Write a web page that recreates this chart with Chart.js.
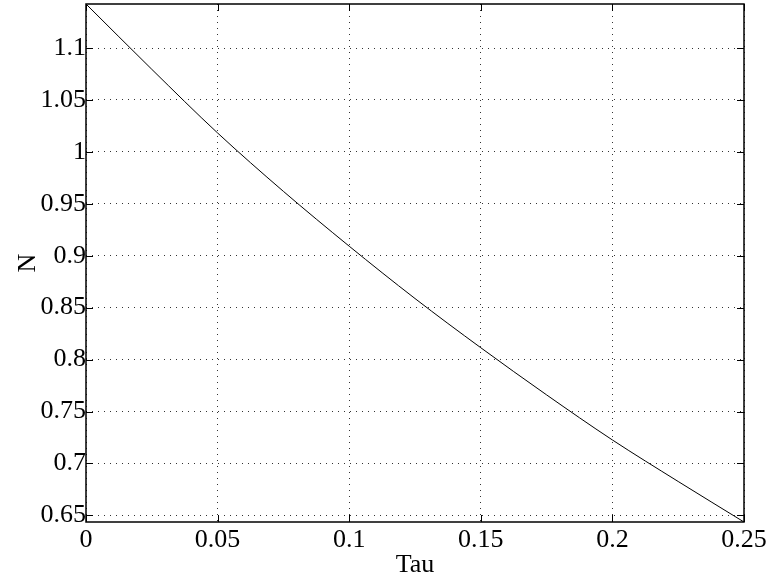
<!DOCTYPE html>
<html>
<head>
<meta charset="utf-8">
<title>N vs Tau</title>
<script src="https://cdn.jsdelivr.net/npm/chart.js@4/dist/chart.umd.min.js"></script>
<style>
  html, body { margin: 0; padding: 0; background: #fff; }
  canvas { display: block; }
</style>
</head>
<body>
<canvas id="chart" width="776" height="579"></canvas>
<script>
// values
const tau = [0, 0.025, 0.05, 0.075, 0.1, 0.125, 0.15, 0.175, 0.2, 0.225, 0.25];
const nVals = [1.1424, 1.0795, 1.0182, 0.962, 0.9092, 0.8588, 0.8114, 0.766, 0.7226, 0.6826, 0.6436];

const xTicks = [0, 0.05, 0.1, 0.15, 0.2, 0.25];
const xTickLabels = ["0", "0.05", "0.1", "0.15", "0.2", "0.25"];
const yTicks = [0.65, 0.7, 0.75, 0.8, 0.85, 0.9, 0.95, 1, 1.05, 1.1];
const yTickLabels = ["0.65", "0.7", "0.75", "0.8", "0.85", "0.9", "0.95", "1", "1.05", "1.1"];
const xRange = [0, 0.25];
const yRange = [0.6436, 1.1424];

const FONT = "'Liberation Serif', 'Times New Roman', serif";

// matlab-ish box with inward ticks on all four sides
const boxPlugin = {
  id: "box",
  afterDraw(chart) {
    const { ctx, chartArea: a, scales } = chart;
    const len = 7;
    ctx.save();
    ctx.strokeStyle = "#000";
    ctx.lineWidth = 1;
    ctx.beginPath();
    for (const v of xTicks) {
      const px = Math.round(scales.x.getPixelForValue(v)) + 0.5;
      ctx.moveTo(px, a.bottom); ctx.lineTo(px, a.bottom - len);
      ctx.moveTo(px, a.top); ctx.lineTo(px, a.top + len);
    }
    for (const v of yTicks) {
      const py = Math.round(scales.y.getPixelForValue(v)) + 0.5;
      ctx.moveTo(a.left, py); ctx.lineTo(a.left + len, py);
      ctx.moveTo(a.right, py); ctx.lineTo(a.right - len, py);
    }
    ctx.stroke();
    ctx.lineWidth = 1.5;
    ctx.strokeRect(a.left, a.top, a.right - a.left, a.bottom - a.top);
    ctx.restore();
  }
};

const gridOpts = { color: "rgba(0,0,0,0.8)", lineWidth: 1, drawTicks: false };
const borderOpts = { display: false, dash: [1, 5] };

new Chart(document.getElementById("chart"), {
  type: "line",
  data: {
    datasets: [{
      data: tau.map((t, i) => ({ x: t, y: nVals[i] })),
      borderColor: "#000",
      borderWidth: 1,
      pointRadius: 0,
      cubicInterpolationMode: "monotone",
      fill: false
    }]
  },
  options: {
    responsive: false,
    animation: false,
    layout: { padding: { top: 4, right: 32, left: 0, bottom: 0 } },
    plugins: { legend: { display: false }, tooltip: { enabled: false } },
    scales: {
      x: {
        type: "linear",
        min: xRange[0],
        max: xRange[1],
        afterBuildTicks: s => { s.ticks = xTicks.map(v => ({ value: v })); },
        afterFit: s => { s.height = 57; s.paddingLeft = 0; s.paddingRight = 0; },
        border: borderOpts,
        grid: gridOpts,
        ticks: {
          padding: 3,
          color: "#000",
          maxRotation: 0,
          font: { family: FONT, size: 26 },
          callback: (v, i) => xTickLabels[i]
        },
        title: {
          display: true,
          text: "Tau",
          color: "#000",
          font: { family: FONT, size: 26 },
          padding: { top: 0, bottom: -2 }
        }
      },
      y: {
        type: "linear",
        min: yRange[0],
        max: yRange[1],
        afterBuildTicks: s => { s.ticks = yTicks.map(v => ({ value: v })); },
        afterFit: s => { s.width = 86; s.paddingTop = 0; s.paddingBottom = 0; },
        border: borderOpts,
        grid: gridOpts,
        ticks: {
          padding: 0,
          color: "#000",
          font: { family: FONT, size: 26 },
          callback: (v, i) => yTickLabels[i]
        },
        title: {
          display: true,
          text: "N",
          color: "#000",
          font: { family: FONT, size: 26 },
          padding: { top: 13, bottom: 0 }
        }
      }
    }
  },
  plugins: [boxPlugin]
});
</script>
</body>
</html>
